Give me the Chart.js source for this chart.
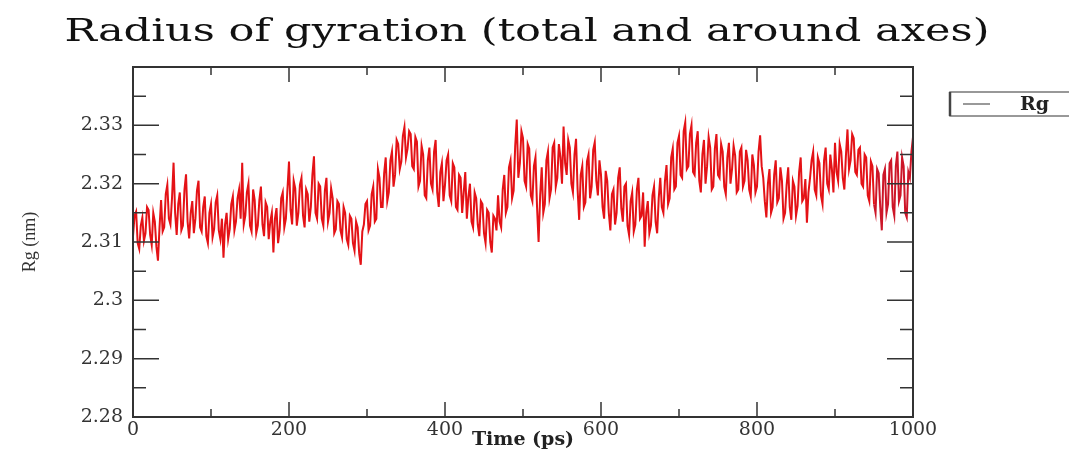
<!DOCTYPE html>
<html>
<head>
<meta charset="utf-8">
<script src="https://cdn.jsdelivr.net/npm/chart.js@4.4.0/dist/chart.umd.min.js"></script>
<style>
  html, body { margin: 0; padding: 0; background: #fff; }
  #wrap { width: 1069px; height: 450px; }
</style>
</head>
<body>
<div id="wrap"><canvas id="rgChart" width="1069" height="450"></canvas></div>
<script>
const timeStep = 2
const rg = [
  2.3110, 2.3145, 2.3152, 2.3098, 2.3088, 2.3128, 2.3142, 2.3102, 2.3115, 2.3160,
  2.3155, 2.3112, 2.3095, 2.3150, 2.3135, 2.3092, 2.3068, 2.3125, 2.3172, 2.3118,
  2.3125, 2.3182, 2.3198, 2.3140, 2.3130, 2.3175, 2.3236, 2.3150, 2.3112, 2.3165,
  2.3185, 2.3120, 2.3128, 2.3190, 2.3216, 2.3135, 2.3106, 2.3150, 2.3170, 2.3115,
  2.3140, 2.3188, 2.3205, 2.3125, 2.3118, 2.3160, 2.3178, 2.3110, 2.3098, 2.3150,
  2.3165, 2.3108, 2.3122, 2.3168, 2.3180, 2.3120, 2.3105, 2.3140, 2.3073, 2.3130,
  2.3150, 2.3105, 2.3122, 2.3165, 2.3178, 2.3120, 2.3135, 2.3175, 2.3190, 2.3140,
  2.3236, 2.3130, 2.3145, 2.3185, 2.3200, 2.3128, 2.3118, 2.3190, 2.3172, 2.3115,
  2.3128, 2.3172, 2.3195, 2.3130, 2.3110, 2.3168, 2.3160, 2.3105, 2.3135, 2.3150,
  2.3082, 2.3140, 2.3158, 2.3098, 2.3120, 2.3175, 2.3185, 2.3125, 2.3140, 2.3190,
  2.3238, 2.3155, 2.3130, 2.3205, 2.3192, 2.3128, 2.3150, 2.3198, 2.3210, 2.3145,
  2.3125, 2.3190, 2.3182, 2.3135, 2.3160, 2.3215, 2.3247, 2.3150, 2.3140, 2.3200,
  2.3195, 2.3140, 2.3128, 2.3188, 2.3210, 2.3135, 2.3150, 2.3192, 2.3175, 2.3115,
  2.3122, 2.3170, 2.3165, 2.3120, 2.3108, 2.3160, 2.3150, 2.3105, 2.3095, 2.3145,
  2.3140, 2.3098, 2.3085, 2.3135, 2.3125, 2.3080, 2.3061, 2.3118, 2.3130, 2.3165,
  2.3170, 2.3120, 2.3128, 2.3182, 2.3195, 2.3135, 2.3140, 2.3225, 2.3210, 2.3160,
  2.3160, 2.3218, 2.3245, 2.3170, 2.3185, 2.3240, 2.3255, 2.3195, 2.3215, 2.3275,
  2.3268, 2.3225, 2.3238, 2.3282, 2.3297, 2.3245, 2.3260, 2.3290, 2.3285, 2.3230,
  2.3225, 2.3280, 2.3272, 2.3195, 2.3205, 2.3265, 2.3250, 2.3180, 2.3175, 2.3240,
  2.3262, 2.3200, 2.3190, 2.3255, 2.3275, 2.3185, 2.3160, 2.3220, 2.3235, 2.3170,
  2.3198, 2.3240, 2.3250, 2.3180, 2.3170, 2.3235, 2.3228, 2.3160, 2.3155, 2.3215,
  2.3210, 2.3150, 2.3185, 2.3220, 2.3140, 2.3178, 2.3200, 2.3135, 2.3125, 2.3185,
  2.3175, 2.3130, 2.3110, 2.3170, 2.3165, 2.3115, 2.3098, 2.3155, 2.3150, 2.3100,
  2.3082, 2.3145, 2.3140, 2.3120, 2.3180, 2.3135, 2.3125, 2.3190, 2.3215, 2.3150,
  2.3160, 2.3228, 2.3240, 2.3175, 2.3188, 2.3265, 2.3310, 2.3210, 2.3235, 2.3290,
  2.3278, 2.3205, 2.3195, 2.3268, 2.3260, 2.3180, 2.3170, 2.3230, 2.3245, 2.3160,
  2.3100, 2.3180, 2.3228, 2.3150, 2.3165, 2.3240, 2.3255, 2.3175, 2.3190, 2.3262,
  2.3270, 2.3195, 2.3210, 2.3268, 2.3245, 2.3200, 2.3298, 2.3235, 2.3215, 2.3275,
  2.3262, 2.3200, 2.3185, 2.3250, 2.3277, 2.3190, 2.3138, 2.3215, 2.3230, 2.3160,
  2.3168, 2.3238, 2.3250, 2.3175, 2.3195, 2.3258, 2.3271, 2.3205, 2.3180, 2.3240,
  2.3215, 2.3160, 2.3140, 2.3222, 2.3205, 2.3150, 2.3120, 2.3182, 2.3190, 2.3130,
  2.3150, 2.3210, 2.3228, 2.3158, 2.3135, 2.3195, 2.3200, 2.3128, 2.3112, 2.3170,
  2.3185, 2.3118, 2.3130, 2.3190, 2.3210, 2.3140, 2.3145, 2.3185, 2.3092, 2.3150,
  2.3170, 2.3115, 2.3128, 2.3180, 2.3195, 2.3135, 2.3115, 2.3175, 2.3210, 2.3160,
  2.3150, 2.3205, 2.3232, 2.3165, 2.3175, 2.3245, 2.3260, 2.3190, 2.3195, 2.3270,
  2.3282, 2.3215, 2.3210, 2.3290, 2.3305, 2.3225, 2.3230, 2.3285, 2.3300, 2.3220,
  2.3215, 2.3270, 2.3290, 2.3205, 2.3185, 2.3250, 2.3275, 2.3200, 2.3230, 2.3280,
  2.3262, 2.3190, 2.3195, 2.3260, 2.3285, 2.3215, 2.3210, 2.3268, 2.3255, 2.3195,
  2.3182, 2.3245, 2.3270, 2.3200, 2.3225, 2.3265, 2.3248, 2.3185, 2.3190, 2.3255,
  2.3262, 2.3195, 2.3205, 2.3258, 2.3240, 2.3190, 2.3178, 2.3250, 2.3232, 2.3185,
  2.3195, 2.3255, 2.3283, 2.3230, 2.3210, 2.3170, 2.3142, 2.3200, 2.3225, 2.3150,
  2.3160, 2.3215, 2.3240, 2.3168, 2.3175, 2.3228, 2.3205, 2.3140, 2.3150, 2.3198,
  2.3228, 2.3160, 2.3138, 2.3205, 2.3195, 2.3145, 2.3162, 2.3220, 2.3245, 2.3170,
  2.3175, 2.3208, 2.3133, 2.3185, 2.3210, 2.3240, 2.3255, 2.3190, 2.3180, 2.3245,
  2.3235, 2.3180, 2.3165, 2.3240, 2.3262, 2.3200, 2.3190, 2.3250, 2.3225, 2.3185,
  2.3270, 2.3220, 2.3205, 2.3268, 2.3255, 2.3210, 2.3190, 2.3248, 2.3293, 2.3225,
  2.3240, 2.3285, 2.3278, 2.3220, 2.3215, 2.3258, 2.3262, 2.3200, 2.3195, 2.3250,
  2.3245, 2.3180, 2.3170, 2.3238, 2.3230, 2.3165, 2.3150, 2.3225, 2.3218, 2.3160,
  2.3120, 2.3215, 2.3225, 2.3150, 2.3165, 2.3235, 2.3240, 2.3160, 2.3145, 2.3230,
  2.3255, 2.3170, 2.3180, 2.3245, 2.3230, 2.3150, 2.3142, 2.3220, 2.3210, 2.3255,
  2.3280
]

const seriesName = 'Rg'
const titleText = 'Radius of gyration (total and around axes)'
const xTitle = 'Time (ps)'
const yTitle = 'Rg (nm)'

const frameColor = '#333'
const lineColor = 'rgb(228, 18, 22)'
const lineColorLate = 'rgb(205, 22, 40)'

// title, frame, inward ticks on all four sides and the legend box (xmgrace look)
const graceFrame = {
  id: 'graceFrame',
  afterDraw(chart) {
    const ctx = chart.ctx
    const a = chart.chartArea
    const xs = chart.scales.x
    const ys = chart.scales.y
    ctx.save()

    // title, a bit wide like the original picture
    ctx.fillStyle = '#111'
    ctx.font = '31px "DejaVu Serif"'
    ctx.textAlign = 'center'
    ctx.textBaseline = 'alphabetic'
    ctx.translate((a.left + a.right) / 2 + 4, 41)
    ctx.scale(1.39, 1)
    ctx.fillText(titleText, 0, 0)
    ctx.setTransform(1, 0, 0, 1, 0, 0)

    ctx.strokeStyle = frameColor
    ctx.lineWidth = 2
    ctx.strokeRect(a.left, a.top, a.right - a.left, a.bottom - a.top)
    ctx.lineWidth = 1.5
    ctx.beginPath()
    let yt = ys.ticks.map(t => t.value)
    for (let i = 0; i < yt.length; i++) {
      let p = ys.getPixelForValue(yt[i])
      ctx.moveTo(a.left, p); ctx.lineTo(a.left + 26, p)
      ctx.moveTo(a.right, p); ctx.lineTo(a.right - 26, p)
      if (i < yt.length - 1) {
        let m = ys.getPixelForValue((yt[i] + yt[i + 1]) / 2)
        ctx.moveTo(a.left, m); ctx.lineTo(a.left + 13, m)
        ctx.moveTo(a.right, m); ctx.lineTo(a.right - 13, m)
      }
    }
    let xt = xs.ticks.map(t => t.value)
    for (let i = 0; i < xt.length; i++) {
      let p = xs.getPixelForValue(xt[i])
      ctx.moveTo(p, a.bottom); ctx.lineTo(p, a.bottom - 15)
      ctx.moveTo(p, a.top); ctx.lineTo(p, a.top + 15)
      if (i < xt.length - 1) {
        let m = xs.getPixelForValue((xt[i] + xt[i + 1]) / 2)
        ctx.moveTo(m, a.bottom); ctx.lineTo(m, a.bottom - 8)
        ctx.moveTo(m, a.top); ctx.lineTo(m, a.top + 8)
      }
    }
    ctx.stroke()

    // legend box on the right
    const ds = chart.data.datasets[0]
    const bx = a.right + 37, by = a.top + 25
    ctx.lineWidth = 1.5
    ctx.strokeStyle = '#777'
    ctx.strokeRect(bx, by, 140, 24)
    ctx.lineWidth = 2.5
    ctx.strokeStyle = '#444'
    ctx.beginPath(); ctx.moveTo(bx, by); ctx.lineTo(bx, by + 24); ctx.stroke()
    ctx.lineWidth = 1.2
    ctx.strokeStyle = '#555'
    ctx.beginPath(); ctx.moveTo(bx + 13, by + 12); ctx.lineTo(bx + 40, by + 12); ctx.stroke()
    ctx.fillStyle = '#222'
    ctx.font = 'bold 19px "DejaVu Serif"'
    ctx.textAlign = 'left'
    ctx.textBaseline = 'middle'
    ctx.fillText(ds.label, bx + 70, by + 13)
    ctx.restore()
  }
}

const data = {
  datasets: [{
    label: seriesName,
    data: rg.map((v, i) => ({ x: i * timeStep, y: v })),
    borderColor: lineColor,
    backgroundColor: lineColor,
    borderWidth: 2,
    pointRadius: 0,
    tension: 0,
    segment: {
      borderColor: c => c.p0.parsed.x >= 950 ? lineColorLate : undefined
    }
  }]
}

const config = {
  type: 'line',
  data: data,
  options: {
    responsive: false,
    animation: false,
    layout: { padding: { left: 0, right: 156, top: 67, bottom: 0 } },
    plugins: {
      legend: { display: false },
      tooltip: { enabled: false },
      title: { display: false }
    },
    scales: {
      x: {
        type: 'linear',
        min: 0,
        max: 1000,
        afterFit(scale) { scale.height = 33 },
        grid: { display: false, drawTicks: false },
        border: { display: false },
        ticks: {
          stepSize: 200,
          padding: 2,
          color: '#333',
          maxRotation: 0,
          font: { family: 'DejaVu Serif', size: 19 },
          callback: v => String(v)
        },
        title: {
          display: true,
          text: xTitle,
          color: '#222',
          font: { family: 'DejaVu Serif', size: 19, weight: 'bold', lineHeight: 1 },
          padding: { top: 0, bottom: 0 }
        }
      },
      y: {
        min: 2.28,
        max: 2.34,
        afterFit(scale) { scale.width = 133 },
        grid: { display: false, drawTicks: false },
        border: { display: false },
        ticks: {
          stepSize: 0.01,
          padding: 10,
          color: '#333',
          font: { family: 'DejaVu Serif', size: 19 },
          callback: v => v > 2.335 ? '' : String(parseFloat(v.toFixed(2)))
        },
        title: {
          display: true,
          text: yTitle,
          color: '#333',
          font: { family: 'Liberation Serif', size: 18, lineHeight: 1.2 },
          padding: { top: 19, bottom: 0 }
        }
      }
    }
  },
  plugins: [graceFrame]
}

let ctx = document.getElementById('rgChart').getContext('2d')
new Chart(ctx, config)
</script>
</body>
</html>
